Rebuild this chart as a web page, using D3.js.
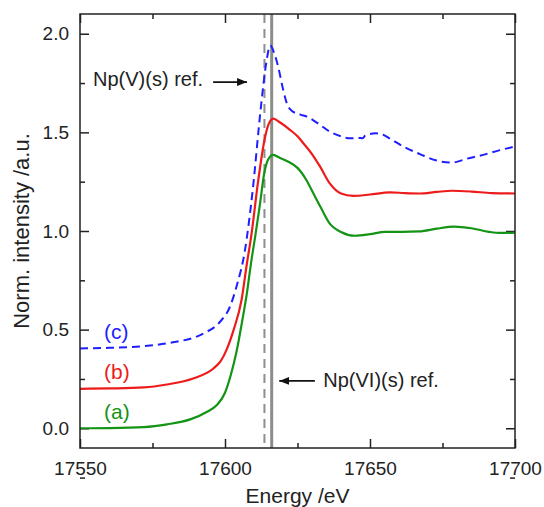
<!DOCTYPE html>
<html>
<head>
<meta charset="utf-8">
<script src="https://cdn.jsdelivr.net/npm/d3@7"></script>
<style>
  body { margin: 0; background: #fff; }
  svg { display: block; font-family: "Liberation Sans", Arial, sans-serif; }
</style>
</head>
<body>
<svg></svg>
<script>
// (a) green
const energyA = [17550, 17560, 17572, 17580, 17588, 17594, 17597, 17600, 17602, 17604, 17606, 17607.5,
  17609, 17610.5, 17612, 17613.5, 17614.8, 17616.6, 17619, 17622, 17625, 17628, 17630.5, 17633, 17636,
  17640, 17644.8, 17650, 17655.2, 17661, 17667, 17673, 17679, 17685, 17691, 17695, 17700];
const intensityA = [0.0, 0.001, 0.006, 0.02, 0.045, 0.085, 0.115, 0.18, 0.27, 0.39, 0.55, 0.68,
  0.84, 0.98, 1.13, 1.29, 1.36, 1.386, 1.37, 1.35, 1.32, 1.26, 1.19, 1.12, 1.04,
  0.995, 0.976, 0.984, 0.996, 0.996, 0.998, 1.012, 1.022, 1.014, 0.996, 0.99, 0.992];

// (b) red
const energyB = [17550, 17560, 17572, 17580, 17589, 17596, 17598.5, 17600.6, 17603, 17605.7, 17607.5,
  17609, 17611.5, 17613.6, 17615, 17616.6, 17619, 17622.4, 17625, 17627, 17630, 17632.8, 17636.2,
  17640, 17644.2, 17650, 17656.9, 17662, 17667.2, 17673, 17678.2, 17685, 17692, 17700];
const intensityB = [0.2, 0.202, 0.207, 0.222, 0.252, 0.303, 0.34, 0.4, 0.5, 0.65, 0.83,
  0.97, 1.26, 1.46, 1.54, 1.57, 1.55, 1.513, 1.48, 1.445, 1.39, 1.326, 1.24,
  1.19, 1.178, 1.185, 1.196, 1.192, 1.19, 1.198, 1.204, 1.2, 1.192, 1.19];

// (c) blue
const energyC = [17550, 17560, 17571.7, 17581, 17592.5, 17598.3, 17601.7, 17604, 17606.9, 17609.5,
  17612.4, 17614.2, 17615.6, 17617, 17618.3, 17620, 17621.5, 17623, 17626, 17628.2, 17632.7, 17636,
  17639.9, 17643.3, 17646, 17647.5, 17648.3, 17652, 17654.5, 17657.5, 17662.6, 17667.2, 17673,
  17678.4, 17683.3, 17689, 17694.8, 17700];
const intensityC = [0.405, 0.408, 0.416, 0.433, 0.48, 0.54, 0.616, 0.72, 0.904, 1.2,
  1.631, 1.85, 1.94, 1.9, 1.835, 1.72, 1.64, 1.61, 1.59, 1.58, 1.539, 1.505,
  1.48, 1.47, 1.472, 1.47, 1.483, 1.495, 1.488, 1.462, 1.42, 1.39, 1.357,
  1.347, 1.366, 1.386, 1.41, 1.428];

// reference edge positions
const refV = 17613.6;
const refVI = 17616.1;

const xTicks = [17550, 17600, 17650, 17700];
const xMinor = [17575, 17625, 17675];
const yTicks = [0, 0.5, 1.0, 1.5, 2.0];
const yMinor = [-0.25, 0.25, 0.75, 1.25, 1.75];

const W = 544, H = 507;
const margin = { top: 14, right: 29, bottom: 59, left: 80 };

const svg = d3.select("svg").attr("width", W).attr("height", H);

const x = d3.scaleLinear().domain([17550, 17700]).range([margin.left, W - margin.right]);
const y = d3.scaleLinear().domain([-0.1, 2.1]).range([H - margin.bottom, margin.top]);

svg.append("defs").append("clipPath").attr("id", "plot")
  .append("rect")
  .attr("x", margin.left).attr("y", margin.top)
  .attr("width", W - margin.left - margin.right)
  .attr("height", H - margin.top - margin.bottom);

// axes: ticks point inward on all four sides
const major = 9, minor = 5;
function styleAxis(g) {
  g.select(".domain").remove();
  g.selectAll(".tick line").attr("stroke", "#222").attr("stroke-width", 1.5);
  g.selectAll(".tick text").attr("fill", "#222").style("font-size", "19px");
}

svg.append("g")
  .attr("transform", `translate(0,${H - margin.bottom})`)
  .call(d3.axisBottom(x).tickValues(xTicks).tickSize(-major).tickPadding(14).tickFormat(d3.format("d")))
  .call(styleAxis);
svg.append("g")
  .attr("transform", `translate(0,${H - margin.bottom})`)
  .call(d3.axisBottom(x).tickValues(xMinor).tickSize(-minor).tickFormat(""))
  .call(styleAxis);
svg.append("g")
  .attr("transform", `translate(0,${margin.top})`)
  .call(d3.axisTop(x).tickValues(xTicks).tickSize(-major).tickFormat(""))
  .call(styleAxis);
svg.append("g")
  .attr("transform", `translate(0,${margin.top})`)
  .call(d3.axisTop(x).tickValues(xMinor).tickSize(-minor).tickFormat(""))
  .call(styleAxis);

svg.append("g")
  .attr("transform", `translate(${margin.left},0)`)
  .call(d3.axisLeft(y).tickValues(yTicks).tickSize(-major).tickPadding(11).tickFormat(d3.format(".1f")))
  .call(styleAxis);
svg.append("g")
  .attr("transform", `translate(${margin.left},0)`)
  .call(d3.axisLeft(y).tickValues(yMinor).tickSize(-minor).tickFormat(""))
  .call(styleAxis);
svg.append("g")
  .attr("transform", `translate(${W - margin.right},0)`)
  .call(d3.axisRight(y).tickValues(yTicks).tickSize(-major).tickFormat(""))
  .call(styleAxis);
svg.append("g")
  .attr("transform", `translate(${W - margin.right},0)`)
  .call(d3.axisRight(y).tickValues(yMinor).tickSize(-minor).tickFormat(""))
  .call(styleAxis);

const plot = svg.append("g").attr("clip-path", "url(#plot)");

// reference lines
plot.append("line")
  .attr("x1", x(refV)).attr("x2", x(refV))
  .attr("y1", margin.top).attr("y2", H - margin.bottom)
  .attr("stroke", "#8e8e8e").attr("stroke-width", 2).attr("stroke-dasharray", "9,6");
plot.append("line")
  .attr("x1", x(refVI)).attr("x2", x(refVI))
  .attr("y1", margin.top).attr("y2", H - margin.bottom)
  .attr("stroke", "#8a8e86").attr("stroke-width", 3);

const line = d3.line()
  .x(d => x(d[0]))
  .y(d => y(d[1]))
  .curve(d3.curveMonotoneX);

plot.append("path").datum(d3.zip(energyA, intensityA))
  .attr("fill", "none").attr("stroke", "#149414").attr("stroke-width", 2.2)
  .attr("d", line);
plot.append("path").datum(d3.zip(energyB, intensityB))
  .attr("fill", "none").attr("stroke", "#ee1b1b").attr("stroke-width", 2.2)
  .attr("d", line);
plot.append("path").datum(d3.zip(energyC, intensityC))
  .attr("fill", "none").attr("stroke", "#1e1eff").attr("stroke-width", 2)
  .attr("stroke-dasharray", "8,5")
  .attr("d", line);

// frame
svg.append("rect")
  .attr("x", margin.left).attr("y", margin.top)
  .attr("width", W - margin.left - margin.right)
  .attr("height", H - margin.top - margin.bottom)
  .attr("fill", "none").attr("stroke", "#222").attr("stroke-width", 1.5);

// series labels
const labels = [
  { t: "(c)", v: 0.452, c: "#1e1eff" },
  { t: "(b)", v: 0.249, c: "#ee1b1b" },
  { t: "(a)", v: 0.046, c: "#149414" }
];
svg.selectAll(".lab").data(labels).join("text")
  .attr("x", x(17558.3)).attr("y", d => y(d.v))
  .attr("fill", d => d.c).style("font-size", "21px")
  .text(d => d.t);

// annotations
svg.append("marker").attr("id", "arrow")
  .attr("viewBox", "0 0 10 8").attr("refX", 10).attr("refY", 4)
  .attr("markerWidth", 10).attr("markerHeight", 8).attr("markerUnits", "userSpaceOnUse")
  .attr("orient", "auto")
  .append("path").attr("d", "M0,0L10,4L0,8Z").attr("fill", "#111");

svg.append("text").attr("x", x(17554.5)).attr("y", y(1.733))
  .style("font-size", "20px").attr("fill", "#222").text("Np(V)(s) ref.");
svg.append("line")
  .attr("x1", x(17595.9)).attr("x2", x(17607.6))
  .attr("y1", y(1.755)).attr("y2", y(1.755))
  .attr("stroke", "#111").attr("stroke-width", 1.8).attr("marker-end", "url(#arrow)");

svg.append("text").attr("x", x(17633.9)).attr("y", y(0.21))
  .style("font-size", "20px").attr("fill", "#222").text("Np(VI)(s) ref.");
svg.append("line")
  .attr("x1", x(17631)).attr("x2", x(17618.7))
  .attr("y1", y(0.24)).attr("y2", y(0.24))
  .attr("stroke", "#111").attr("stroke-width", 1.8).attr("marker-end", "url(#arrow)");

// axis titles
svg.append("text")
  .attr("x", (margin.left + W - margin.right) / 2).attr("y", 503)
  .attr("text-anchor", "middle").style("font-size", "21px").attr("fill", "#222")
  .text("Energy /eV");
svg.append("text")
  .attr("transform", `translate(29,${(margin.top + H - margin.bottom) / 2}) rotate(-90)`)
  .attr("text-anchor", "middle").style("font-size", "22px").attr("fill", "#222")
  .text("Norm. intensity /a.u.");
</script>
</body>
</html>
